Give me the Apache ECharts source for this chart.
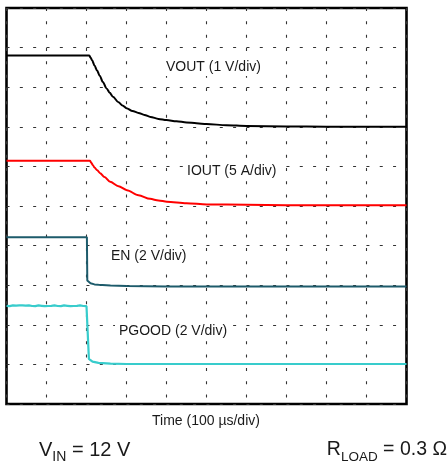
<!DOCTYPE html>
<html>
<head>
<meta charset="utf-8">
<script src="https://cdn.jsdelivr.net/npm/echarts@6/dist/echarts.min.js"></script>
<style>
html,body{margin:0;padding:0;background:#fff;}
#chart{width:448px;height:465px;}
</style>
</head>
<body>
<div id="chart"></div>
<script>
// Time in divisions (100 µs/div), amplitude in screen divisions (0 = bottom of screen)
const vout = [[0,8.80],[1,8.80],[2.07,8.80],[2.1,8.75],[2.14,8.68],[2.2,8.55],[2.26,8.43],[2.33,8.29],[2.41,8.13],[2.5,7.97],[2.58,7.86],[2.66,7.76],[2.8,7.62],[2.9,7.54],[3.0,7.47],[3.15,7.40],[3.3,7.35],[3.45,7.30],[3.6,7.25],[3.8,7.20],[4.0,7.17],[4.25,7.14],[4.5,7.11],[4.75,7.09],[5.0,7.07],[5.5,7.04],[6.0,7.02],[7.0,7.01],[8.0,7.0],[10,7.0]];
const iout = [[0,6.14],[1,6.14],[2.09,6.14],[2.12,6.09],[2.16,6.03],[2.2,5.97],[2.27,5.90],[2.34,5.83],[2.45,5.73],[2.59,5.61],[2.8,5.50],[3.01,5.40],[3.3,5.27],[3.59,5.18],[3.8,5.14],[4.01,5.11],[4.5,5.07],[5.01,5.04],[6.0,5.03],[7.0,5.02],[10,5.02]];
const en = [[0,4.21],[1,4.21],[2.01,4.21],[2.02,3.12],[2.05,3.08],[2.1,3.05],[2.2,3.02],[2.3,3.01],[2.6,2.99],[3.0,2.98],[4.0,2.97],[10,2.97]];
const pgood = [[0,2.48],[0.04,2.49],[0.08,2.47],[0.12,2.485],[0.16,2.49],[0.2,2.475],[0.24,2.485],[0.28,2.47],[0.32,2.49],[0.36,2.48],[0.4,2.49],[0.44,2.475],[0.48,2.485],[0.52,2.47],[0.56,2.49],[0.6,2.48],[0.64,2.475],[0.68,2.49],[0.72,2.47],[0.76,2.485],[0.8,2.49],[0.84,2.475],[0.88,2.48],[0.92,2.49],[0.96,2.47],[1.0,2.485],[1.04,2.475],[1.08,2.49],[1.12,2.48],[1.16,2.47],[1.2,2.49],[1.24,2.48],[1.28,2.475],[1.32,2.49],[1.36,2.47],[1.4,2.485],[1.44,2.49],[1.48,2.475],[1.52,2.48],[1.56,2.49],[1.6,2.47],[1.64,2.485],[1.68,2.475],[1.72,2.49],[1.76,2.48],[1.8,2.47],[1.84,2.49],[1.88,2.48],[1.92,2.475],[1.96,2.49],[2.0,2.47],[2.05,2.48],[2.06,1.14],[2.1,1.09],[2.15,1.07],[2.3,1.04],[2.6,1.02],[3.0,1.01],[4.0,1.01],[10,1.01]];

const seriesNames = ['VOUT','IOUT','EN','PGOOD'];
const traceLabels = ['VOUT (1 V/div)','IOUT (5 A/div)','EN (2 V/div)','PGOOD (2 V/div)'];
const xTitle = 'Time (100 µs/div)';
const divisions = 10;

const font = "'Liberation Sans', Arial, Helvetica, sans-serif";
const gridStyle = {color:'#333', width:1.1, type:[3,10.33], dashOffset:0};

const chart = echarts.init(document.getElementById('chart'), null, {renderer:'canvas'});
const mk = (name, data, color, w, smooth) => ({
  name, type:'line', data, showSymbol:false, symbol:'none', animation:false,
  smooth: smooth || false, smoothMonotone:'x',
  lineStyle:{color, width:w}, clip:true, z:3
});
const lbl = (text, left, top) => ({type:'text', left, top, z:10,
  style:{text, font:'14px '+font, fill:'#1a1a1a', backgroundColor:'#fff', padding:[2,4]}});
chart.setOption({
  backgroundColor:'#fff',
  animation:false,
  grid:{left:6.5, top:8, width:400, height:396, show:true, borderColor:'#000', borderWidth:2.6, backgroundColor:'transparent'},
  xAxis:{type:'value', min:0, max:divisions, interval:1,
    axisLine:{show:false}, axisTick:{show:false}, axisLabel:{show:false},
    splitLine:{show:true, lineStyle:gridStyle}},
  yAxis:{type:'value', min:0, max:divisions, interval:1,
    axisLine:{show:false}, axisTick:{show:false}, axisLabel:{show:false},
    splitLine:{show:true, lineStyle:gridStyle}},
  series:[
    mk(seriesNames[0], vout, '#000000', 2, 0.3),
    mk(seriesNames[1], iout, '#ff0000', 2, 0.3),
    mk(seriesNames[2], en, '#1d5b6b', 2),
    mk(seriesNames[3], pgood, '#38cccc', 2.2)
  ],
  graphic:[
    lbl(traceLabels[0], 162, 58),
    lbl(traceLabels[1], 183, 162),
    lbl(traceLabels[2], 107, 247),
    lbl(traceLabels[3], 115, 322),
    {type:'text', left:152, top:414, z:10, style:{text:xTitle, font:'14px '+font, fill:'#1a1a1a'}},
    {type:'text', left:39, top:440, z:10, style:{
      text:'{m|V}{s|IN}{m| = 12 V}', fill:'#1a1a1a',
      rich:{m:{fontSize:20, fontFamily:font, lineHeight:20, verticalAlign:'top', fill:'#1a1a1a'},
            s:{fontSize:14, fontFamily:font, lineHeight:34, fill:'#1a1a1a'}}}},
    {type:'text', right:1, top:440, z:10, style:{
      text:'{m|R}{s|LOAD}{m| = 0.3 Ω}', fill:'#1a1a1a',
      rich:{m:{fontSize:19.5, fontFamily:font, lineHeight:20, verticalAlign:'top', fill:'#1a1a1a'},
            s:{fontSize:13.5, fontFamily:font, lineHeight:34, fill:'#1a1a1a'}}}}
  ]
});
</script>
</body>
</html>
